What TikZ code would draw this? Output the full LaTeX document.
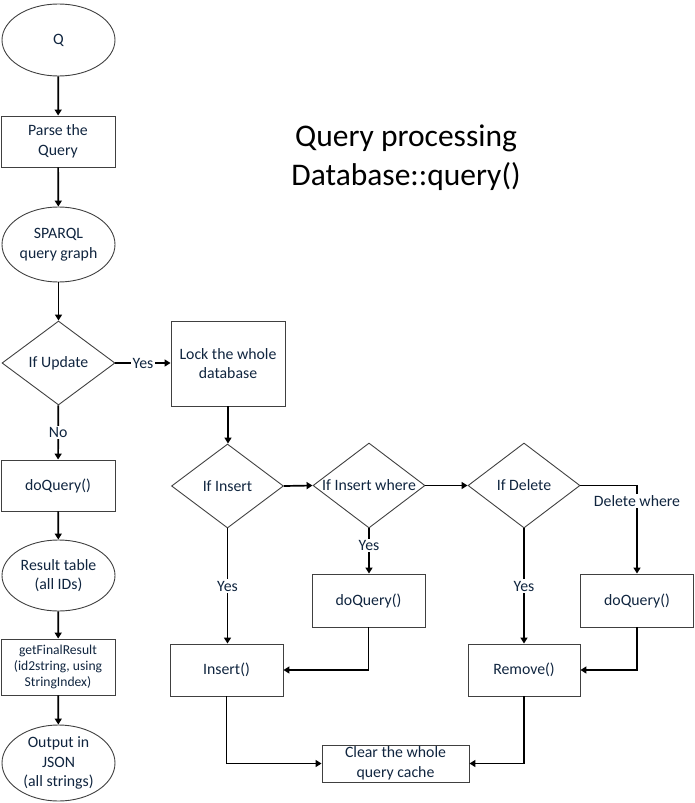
\documentclass[tikz,border=0pt]{standalone}
\usepackage{fontspec}
\setmainfont{Carlito}
\usetikzlibrary{shapes.geometric,arrows.meta}
\definecolor{txt}{RGB}{16,37,63}
\definecolor{bord}{RGB}{64,64,64}
\begin{document}
\begin{tikzpicture}[x=1pt,y=-1pt,
  base/.style={draw=bord,line width=0.9pt,text=txt,font=\fontsize{15.8}{19.5}\selectfont,align=center,inner sep=0pt},
  box/.style={base,rectangle},
  ell/.style={base,ellipse},
  dia/.style={base,diamond},
  conn/.style={line width=1.7pt,-{Triangle[length=6pt,width=7pt]}},
  lbl/.style={fill=white,text=txt,font=\fontsize{15.8}{19.5}\selectfont,inner sep=1.5pt}
]
\useasboundingbox (0,0) rectangle (695,803);

\node[ell,minimum width=113,minimum height=72] (q) at (58.5,40) {Q};
\node[box,minimum width=114,minimum height=51] (parse) at (58,141.5) {Parse the\\Query};
\node[ell,minimum width=113,minimum height=75] (sparql) at (58.5,244.5) {SPARQL\\query graph};
\node[dia,minimum width=113,minimum height=84] (upd) at (58.5,363) {\makebox[0pt]{If Update}};
\node[box,minimum width=114,minimum height=85] (lock) at (228,363.5) {Lock the whole\\database};
\node[box,minimum width=114,minimum height=51] (dq) at (58,485.5) {doQuery()};
\node[ell,minimum width=113,minimum height=71] (res) at (58.5,575.5) {Result table\\(all IDs)};
\node[box,minimum width=114,minimum height=56,font=\fontsize{13.6}{16}\selectfont] (gfr) at (58,667) {getFinalResult\\(id2string, using\\StringIndex)};
\node[ell,minimum width=113,minimum height=76] (out) at (58.5,763) {Output in\\JSON\\(all strings)};

\node[font=\fontsize{31.5}{39}\selectfont,align=center,inner sep=0pt] (title) at (406,158) {Query processing\\Database::query()};

\node[dia,minimum width=112,minimum height=84] (ins) at (227.5,486) {\makebox[0pt]{If Insert}};
\node[dia,minimum width=112,minimum height=85] (insw) at (369,485.5) {\makebox[0pt]{If Insert where}};
\node[dia,minimum width=112,minimum height=85] (del) at (524,485.5) {\makebox[0pt]{If Delete}};
\node[box,minimum width=113,minimum height=53] (dq1) at (368.5,600.5) {doQuery()};
\node[box,minimum width=113,minimum height=53] (dq2) at (637,600.5) {doQuery()};
\node[box,minimum width=113,minimum height=52] (insert) at (226.5,670) {Insert()};
\node[box,minimum width=112,minimum height=52] (remove) at (524,670) {Remove()};
\node[box,minimum width=147,minimum height=37] (clear) at (395.5,763.5) {Clear the whole\\query cache};

\draw[conn] (q) -- (parse);
\draw[conn] (parse) -- (sparql);
\draw[conn] (sparql) -- (upd);
\draw[conn] (upd.east) -- node[lbl]{Yes} (upd.east -| lock.west);
\draw[conn] (upd) -- node[lbl]{No} (dq);
\draw[conn] (dq) -- (res);
\draw[conn] (res) -- (gfr);
\draw[conn] (gfr) -- (out);

\draw[conn] (lock.south) -- (lock.south |- ins.north);
\draw[conn] (ins.east) -- (insw.west);
\draw[conn] (insw.east) -- (del.west);
\draw[conn] (ins.south) -- node[lbl]{Yes} (ins.south |- insert.north);
\draw[conn] (insw.south) -- node[lbl,pos=0.38]{Yes} (insw.south |- dq1.north);
\draw[conn] (del.south) -- node[lbl]{Yes} (remove.north);
\draw[conn] (del.east) -| node[lbl,pos=0.59]{Delete where} (dq2.north);
\draw[conn] (dq1.south) |- (insert.east);
\draw[conn] (dq2.south) |- (remove.east);
\draw[conn] (insert.south) |- (clear.west);
\draw[conn] (remove.south) |- (clear.east);
\end{tikzpicture}
\end{document}
